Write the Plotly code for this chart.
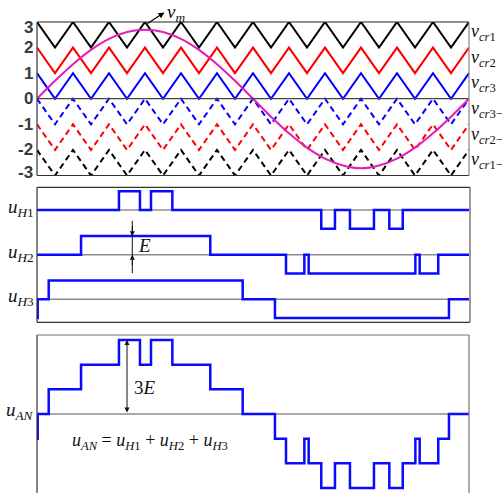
import plotly.graph_objects as go

W, H = 502, 493

# ---------------- data ----------------
# carrier vertices (degrees of the fundamental period)
carrier_vertex_deg = [0, 15, 30, 45, 60, 75, 90, 105, 120, 135, 150, 165, 180,
                      195, 210, 225, 240, 255, 270, 285, 300, 315, 330, 345, 360]
carrier_names = ["cr1", "cr2", "cr3", "cr3−", "cr2−", "cr1−"]
carrier_peak = [3, 2, 1, 0, -1, -2]
carrier_trough = [2, 1, 0, -1, -2, -3]
carrier_colors = ["#000000", "#ff0000", "#0000ff", "#0000ff", "#ff0000", "#000000"]
carrier_dashed = [False, False, False, True, True, True]

# modulating wave v_m
sine_deg = [0, 15, 30, 45, 60, 75, 90, 105, 120, 135, 150, 165, 180,
            195, 210, 225, 240, 255, 270, 285, 300, 315, 330, 345, 360]
sine_val = [0, 0.70, 1.35, 1.91, 2.34, 2.61, 2.70, 2.61, 2.34, 1.91, 1.35, 0.70, 0,
            -0.70, -1.35, -1.91, -2.34, -2.61, -2.72, -2.61, -2.34, -1.91, -1.35, -0.70, 0]

top_tick_vals = [3, 2, 1, 0, -1, -2, -3]
top_tick_text = ["3", "2", "1", "0", "-1", "-2", "-3"]

# H-bridge outputs (switching instants in degrees, levels in units of E)
uH1_t = [0, 68.3, 85.8, 95.0, 112.8, 236.9, 248.3, 260.8, 280.8, 293.6, 304.8, 360]
uH1_v = [0, 1, 0, 1, 0, -1, 0, -1, 0, -1, 0, 0]
uH2_t = [0, 36.7, 144.4, 207.5, 222.8, 226.4, 315.3, 318.9, 334.4, 360]
uH2_v = [0, 1, 0, -1, 0, -1, 0, -1, 0, 0]
uH3_t = [0, 0.6, 9.75, 171.4, 198.3, 343.3, 360]
uH3_v = [-1, 0, 1, 0, -1, 0, 0]

# phase voltage u_AN
uAN_t = [0, 0.6, 9.75, 36.7, 68.3, 85.8, 95.0, 112.8, 144.4, 171.4, 198.3, 207.5,
         222.8, 226.4, 236.9, 248.3, 260.8, 280.8, 293.6, 304.8, 315.3, 318.9,
         334.4, 343.3, 360]
uAN_v = [-1, 0, 1, 2, 3, 2, 3, 2, 1, 0, -1, -2, -1, -2, -3, -2, -3, -2, -3, -2,
         -1, -2, -1, 0, 0]

# ---------------- layout helpers ----------------
X0, X1 = 37, 469          # plot area left/right pixels


def px(p):
    return p / W


def py(p):
    return 1 - p / H


TOP = (22, 175.5)
MID = (187.3, 322.3)
BOT = (335, 493)
E_MID = 18.7
H_OFFSETS = [4.775, 2.385, 0.0]
MID_RANGE = [-(MID[1] - 299.3) / E_MID, (299.3 - MID[0]) / E_MID]

fig = go.Figure()

# ---- top panel ----
for name, pk, tr, col, dsh in zip(carrier_names, carrier_peak, carrier_trough,
                                  carrier_colors, carrier_dashed):
    vals = [pk if i % 2 == 0 else tr for i in range(len(carrier_vertex_deg))]
    fig.add_trace(go.Scatter(x=carrier_vertex_deg, y=vals, mode="lines",
                             line=dict(color=col, width=2,
                                       dash="6px,4px" if dsh else "solid"),
                             xaxis="x", yaxis="y", hoverinfo="skip"))
fig.add_trace(go.Scatter(x=sine_deg, y=sine_val, mode="lines",
                         line=dict(color="#e61cb8", width=2, shape="spline"),
                         xaxis="x", yaxis="y", hoverinfo="skip"))

# ---- middle panel ----
for t, v, off in zip([uH1_t, uH2_t, uH3_t], [uH1_v, uH2_v, uH3_v], H_OFFSETS):
    fig.add_trace(go.Scatter(x=[0, 360], y=[off, off], mode="lines",
                             line=dict(color="#8c8c8c", width=1.5),
                             xaxis="x2", yaxis="y2", hoverinfo="skip"))
    fig.add_trace(go.Scatter(x=t, y=[a + off for a in v], mode="lines",
                             line=dict(color="#0a0aff", width=2.5, shape="hv"),
                             xaxis="x2", yaxis="y2", hoverinfo="skip"))

# ---- bottom panel ----
fig.add_trace(go.Scatter(x=[0, 360], y=[0, 0], mode="lines",
                         line=dict(color="#8c8c8c", width=1.5),
                         xaxis="x3", yaxis="y3", hoverinfo="skip"))
fig.add_trace(go.Scatter(x=uAN_t, y=uAN_v, mode="lines",
                         line=dict(color="#0a0aff", width=2.5, shape="hv"),
                         xaxis="x3", yaxis="y3", hoverinfo="skip"))

ax_common = dict(range=[0, 360], domain=[px(X0), px(X1)], visible=False,
                 showgrid=False, zeroline=False, fixedrange=True)
fig.update_layout(
    width=W, height=H, margin=dict(l=0, r=0, t=0, b=0),
    paper_bgcolor="white", plot_bgcolor="rgba(0,0,0,0)", showlegend=False,
    xaxis=dict(ax_common, anchor="y"),
    xaxis2=dict(ax_common, anchor="y2"),
    xaxis3=dict(ax_common, anchor="y3"),
    yaxis=dict(range=[-3, 3], domain=[py(TOP[1]), py(TOP[0])], visible=False,
               anchor="x", showgrid=False, zeroline=False),
    yaxis2=dict(range=MID_RANGE, domain=[py(MID[1]), py(MID[0])], visible=False,
                anchor="x2", showgrid=False, zeroline=False),
    yaxis3=dict(range=[-3.2, 3.2], domain=[0, py(BOT[0])], visible=False,
                anchor="x3", showgrid=False, zeroline=False),
)

shapes = []


def hline(y, x0, x1, color, w=1.2):
    shapes.append(dict(type="line", xref="paper", yref="paper", x0=px(x0), x1=px(x1),
                       y0=py(y), y1=py(y), line=dict(color=color, width=w)))


def vline(x, y0, y1, color, w=1.2):
    shapes.append(dict(type="line", xref="paper", yref="paper", x0=px(x), x1=px(x),
                       y0=py(y0), y1=py(y1), line=dict(color=color, width=w)))


# top panel box + zero line
hline(TOP[0], X0, X1, "#222222")
hline(TOP[1], X0, X1, "#333333")
hline(98.7, X0, X1, "#444444")
vline(X0, TOP[0], TOP[1], "#333333")
vline(X1, TOP[0], TOP[1], "#888888")
# middle panel box
hline(MID[0], X0, X1 + 1, "#333333")
hline(MID[1], X0, X1 + 1, "#333333")
vline(X0, MID[0], MID[1], "#333333")
vline(X1 + 1, MID[0], MID[1], "#555555")
# bottom panel box (bottom edge outside picture)
hline(BOT[0], X0, X1, "#777777")
vline(X0, BOT[0], H, "#333333")
vline(X1, BOT[0], H, "#777777")
# E measure line
vline(132.3, 220.7, 273.3, "#111111", 1)
fig.update_layout(shapes=shapes)

ann = []
# top tick labels
tick_shift = {3: -6, -3: 3}
for v, txt in zip(top_tick_vals, top_tick_text):
    ann.append(dict(x=px(34.5), xref="paper", y=v, yref="y", text=txt,
                    xanchor="right", yanchor="middle", showarrow=False,
                    yshift=tick_shift.get(v, 0),
                    font=dict(family="Liberation Sans", size=17, color="#3a3a3a",
                              weight="bold")))

serif = dict(family="Liberation Serif", size=19, color="#111111")
serif_s = dict(family="Liberation Serif", size=18, color="#111111")

# carrier labels
for name, pk, tr in zip(carrier_names, carrier_peak, carrier_trough):
    ann.append(dict(x=px(469), xref="paper", y=(pk + tr) / 2, yref="y",
                    text="<i>v</i><sub><i>" + name[:2] + "</i>" + name[2:] + "</sub>",
                    xanchor="left", yanchor="middle", showarrow=False, font=serif_s,
                    yshift=2))

# v_m arrow and label
ann.append(dict(x=px(164.5), y=py(12.5), xref="paper", yref="paper",
                ax=-18.5, ay=12, axref="pixel", ayref="pixel",
                showarrow=True, arrowhead=2, arrowsize=1, arrowwidth=1.2,
                arrowcolor="#000000", text=""))
ann.append(dict(x=px(165), y=py(13), xref="paper", yref="paper",
                text="<i>v</i><sub><i>m</i></sub>", xanchor="left", yanchor="middle",
                showarrow=False, font=serif))

# middle panel labels
for lbl, off_px in zip(["1", "2", "3"], [210, 254.7, 299.3]):
    ann.append(dict(x=px(36), y=py(off_px - 2), xref="paper", yref="paper",
                    text="<i>u</i><sub><i>H</i>" + lbl + "</sub>",
                    xanchor="right", yanchor="middle", showarrow=False, font=serif))

# E arrowheads
ann.append(dict(x=px(132.3), y=py(236.3), xref="paper", yref="paper",
                ax=0, ay=-12, showarrow=True, arrowhead=2, arrowsize=1,
                arrowwidth=1, arrowcolor="#111111", text=""))
ann.append(dict(x=px(132.3), y=py(254.7), xref="paper", yref="paper",
                ax=0, ay=12, showarrow=True, arrowhead=2, arrowsize=1,
                arrowwidth=1, arrowcolor="#111111", text=""))
ann.append(dict(x=px(136), y=py(246), xref="paper", yref="paper",
                text="<i>E</i>", xanchor="left", yanchor="middle",
                showarrow=False, font=serif))

# bottom panel labels
ann.append(dict(x=px(36), y=py(411), xref="paper", yref="paper",
                text="<i>u</i><sub><i>AN</i></sub>", xanchor="right",
                yanchor="middle", showarrow=False, font=serif))
ann.append(dict(x=px(127), y=py(340), xref="paper", yref="paper",
                ax=0, ay=74, showarrow=True, arrowhead=2, startarrowhead=2,
                arrowside="end+start", arrowsize=1, arrowwidth=1,
                arrowcolor="#111111", text=""))
ann.append(dict(x=px(132), y=py(387), xref="paper", yref="paper",
                text="3<i>E</i>", xanchor="left", yanchor="middle",
                showarrow=False, font=serif))
ann.append(dict(x=px(150), y=py(441), xref="paper", yref="paper",
                text="<i>u</i><sub><i>AN</i></sub> = <i>u</i><sub><i>H</i>1</sub>"
                     " + <i>u</i><sub><i>H</i>2</sub> + <i>u</i><sub><i>H</i>3</sub>",
                xanchor="center", yanchor="middle", showarrow=False, font=serif_s))

fig.update_layout(annotations=ann)
fig.write_html("out.html")
